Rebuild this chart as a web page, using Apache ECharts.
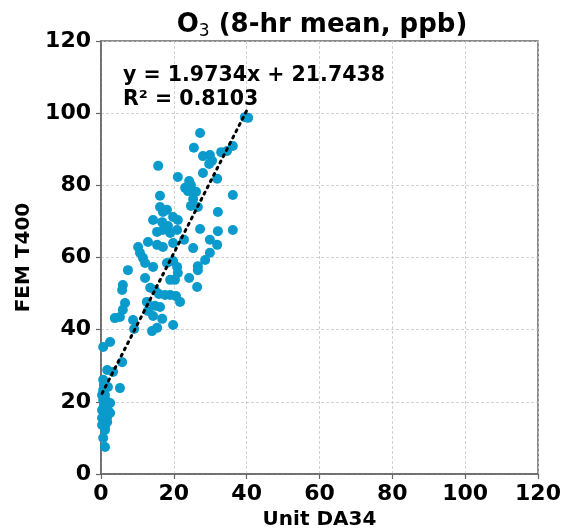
<!DOCTYPE html>
<html>
<head>
<meta charset="utf-8">
<script src="https://cdn.jsdelivr.net/npm/echarts@6/dist/echarts.min.js"></script>
<style>html,body{margin:0;padding:0;background:#fff}#c{width:564px;height:531px}</style>
</head>
<body>
<div id="c"></div>
<script>
const xValues = [39.5,40.4,27.2,25.5,36.2,34.6,33.0,28.0,29.9,30.5,29.7,15.7,28.0,31.9,21.1,24.2,24.7,23.1,23.9,26.1,36.2,25.3,16.2,24.7,26.6,16.2,18.1,17.0,32.1,14.3,16.8,18.4,19.8,21.1,20.9,17.0,15.4,19.0,27.2,32.1,36.2,12.9,15.4,17.0,19.8,22.8,25.3,29.9,31.9,29.9,28.6,26.6,26.6,10.2,10.7,11.5,12.1,14.3,18.1,19.8,20.9,21.1,20.3,19.0,24.2,26.4,12.1,7.4,13.5,14.8,15.9,17.6,19.0,20.6,21.7,14.8,16.2,12.9,14.3,16.8,19.8,15.4,14.0,9.1,6.0,5.8,6.6,6.0,3.8,5.2,8.8,12.6,2.5,0.6,5.8,1.7,3.3,0.6,1.9,0.6,5.2,1.1,1.7,2.5,1.9,2.5,1.7,1.7,1.1,1.1,0.6,1.1,0.3,0.3,0.3,0.6,0.8,0.3,0.8];
const yValues = [98.9,98.7,94.5,90.4,90.9,89.5,89.2,88.1,88.4,86.8,85.9,85.4,83.4,81.8,82.3,81.2,80.1,79.3,78.4,78.2,77.3,76.2,77.1,74.3,74.0,74.0,73.2,72.6,72.6,70.4,69.8,68.7,71.2,70.4,67.6,67.6,67.1,66.8,67.9,67.3,67.6,64.3,63.5,62.9,64.0,64.9,62.6,64.9,63.5,61.3,59.3,57.6,56.5,62.9,61.3,59.9,58.5,57.4,58.5,59.0,57.4,55.7,53.8,53.8,54.3,51.8,54.3,56.5,51.6,51.0,49.9,49.6,49.6,49.3,47.7,46.6,46.3,45.2,43.8,43.0,41.3,40.5,39.6,40.2,52.4,51.0,47.4,45.5,43.2,43.5,42.7,47.7,36.6,35.2,31.0,28.8,28.3,26.1,24.1,23.3,23.8,21.9,20.0,19.7,17.7,16.9,15.8,14.4,13.0,12.2,10.0,7.5,17.7,15.5,13.6,20.5,19.1,21.9,24.7];
const slope = 1.9734, intercept = 21.7438, r2 = 0.8103;
const axisTicks = {min: 0, max: 120, interval: 20};
const titleText = 'O{sub|3} (8-hr mean, ppb)';
const xName = 'Unit DA34', yName = 'FEM T400';

const pts = xValues.map((x, i) => [x, yValues[i]]);
const xmin = Math.min(...xValues), xmax = Math.max(...xValues);
const fitLine = [[xmin, slope * xmin + intercept], [xmax, slope * xmax + intercept]];
const font = 'DejaVu Sans';

const chart = echarts.init(document.getElementById('c'), null, {renderer: 'canvas'});
const axisCommon = {
  min: axisTicks.min, max: axisTicks.max, interval: axisTicks.interval,
  axisLine: {show: true, onZero: false, lineStyle: {color: '#666', width: 1.5}},
  axisTick: {show: true, inside: false, length: 5, lineStyle: {color: '#666', width: 1.2}},
  splitLine: {show: true, lineStyle: {color: '#c8c8c8', type: [3, 2], width: 0.8}},
  axisLabel: {color: '#000', fontFamily: font, fontWeight: 'bold', fontSize: 22},
  nameTextStyle: {color: '#000', fontFamily: font, fontWeight: 'bold', fontSize: 20}
};
chart.setOption({
  animation: false,
  title: [{
    text: titleText, left: 317, top: 6, textAlign: 'center',
    textStyle: {fontFamily: font, fontWeight: 'bold', fontSize: 26, color: '#000',
      rich: {sub: {fontFamily: font, fontSize: 17, fontWeight: 'normal', color: '#000', verticalAlign: 'bottom', padding: [12, 0, 0, 0]}}}
  }, {
    text: 'y = ' + slope + 'x + ' + intercept + '\nR\u00b2 = ' + r2,
    left: 118, top: 59,
    textStyle: {fontFamily: font, fontWeight: 'bold', fontSize: 20.5, color: '#000', lineHeight: 24}
  }],
  grid: {left: 101, right: 26, top: 41, bottom: 57, containLabel: false, outerBoundsMode: 'none',
    show: true, borderColor: '#666', borderWidth: 1.5, backgroundColor: 'transparent'},
  xAxis: Object.assign({}, axisCommon, {
    type: 'value', name: xName, nameLocation: 'middle', nameGap: 36,
    axisLabel: Object.assign({}, axisCommon.axisLabel, {margin: 9})
  }),
  yAxis: Object.assign({}, axisCommon, {
    type: 'value', name: yName, nameLocation: 'middle', nameGap: 64, nameRotate: 90,
    axisLabel: Object.assign({}, axisCommon.axisLabel, {margin: 10})
  }),
  series: [{
    type: 'scatter', data: pts, symbolSize: 10,
    itemStyle: {color: '#0a9acb', opacity: 1}, z: 2
  }, {
    type: 'line', data: fitLine, showSymbol: false, symbol: 'none',
    lineStyle: {color: '#000', width: 3, type: [2, 5], cap: 'round'}, z: 3
  }]
});
</script>
</body>
</html>
